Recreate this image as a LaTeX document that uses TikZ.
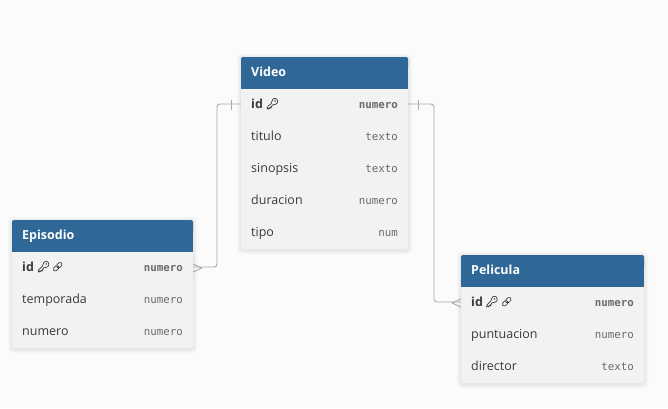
\documentclass[tikz,border=0pt]{standalone}
\usepackage{fontspec}
\setmainfont{Open Sans}
\newfontfamily\typefont{DejaVu Sans Mono}
\definecolor{pagebg}{HTML}{FBFBFB}
\definecolor{headbg}{HTML}{2F6796}
\definecolor{bodybg}{HTML}{F2F2F2}
\definecolor{linecol}{HTML}{A8A8AE}
\definecolor{namecol}{HTML}{3A3A3A}
\definecolor{typecol}{HTML}{6A6A6A}
\tikzset{
  x=1pt,y=-1pt,
  tablebody/.style={fill=bodybg,draw=none,rounded corners=2pt},
  headrect/.style={fill=headbg,draw=none},
  rowbox/.style={inner sep=0pt,outer sep=0pt,minimum height=32pt,anchor=north west},
  headtext/.style={text=white,font=\fontsize{12.5}{14}\selectfont\bfseries,anchor=base west,inner sep=0pt},
  fieldname/.style={text=namecol,font=\fontsize{12.5}{14}\selectfont,anchor=base west,inner sep=0pt},
  keyname/.style={text=namecol,font=\fontsize{12.5}{14}\selectfont\bfseries,anchor=base west,inner sep=0pt},
  typetext/.style={text=typecol,font=\typefont\fontsize{10.8}{13}\selectfont,anchor=base east,inner sep=0pt},
  keytype/.style={text=typecol,font=\typefont\fontsize{10.8}{13}\selectfont\bfseries,anchor=base east,inner sep=0pt},
  conn/.style={draw=linecol,line width=0.9pt,rounded corners=3pt},
  endmark/.style={draw=linecol,line width=0.9pt},
  glyph/.style={draw=namecol,line width=0.7pt,line cap=round},
  keyicon/.pic={
    \draw[glyph,rounded corners=1pt] (-0.2,-1.2) .. controls (-0.8,-3.8) and (1.8,-5.6) .. (3.2,-5.2)
      .. controls (5.4,-4.8) and (6,-1.6) .. (4.4,-0.2)
      .. controls (3.4,0.6) and (2,0.8) .. (1,0.4)
      -- (-0.6,2) -- (-0.8,3.6) -- (-2.4,3.8) -- (-3,5) -- (-5,5) -- (-5,3.4) -- cycle;
    \draw[glyph] (2.8,-2.8) circle (0.35pt);
  },
  linkicon/.pic={
    \draw[glyph,rotate=45,rounded corners=1.8pt] (-5.4,-2) rectangle (0.8,2);
    \draw[glyph,rotate=45,rounded corners=1.8pt] (-0.8,-2) rectangle (5.4,2);
  },
}
\newcommand{\softshadow}[4]{%
  \foreach \s in {4,3,2,1}{
    \fill[black,opacity=0.018,rounded corners=4pt] (#1-\s,#2-\s+1) rectangle (#3+\s,#4+\s+1);
  }%
}
\begin{document}
\begin{tikzpicture}
\useasboundingbox (0,0) rectangle (668,408);
\fill[pagebg] (0,0) rectangle (668,408);

% Video
\softshadow{241}{57}{408}{249}
\fill[tablebody] (241,57) rectangle (408,249);
\fill[headrect,rounded corners=2pt] (241,57) rectangle (408,70);
\fill[headrect] (241,64) rectangle (408,89);
\node[headtext] (videohead) at (251,76) {Video};
\node[rowbox,minimum width=167pt] (videoid) at (241,89) {};
\node[keyname] (videoidname) at (251,108.5) {id};
\pic at (272.2,103.8) {keyicon};
\node[keytype] (videoidtype) at (398,108) {numero};
\node[fieldname] (videotitulo) at (251,140.5) {titulo};
\node[typetext] (videotitulot) at (398,140) {texto};
\node[fieldname] (videosinopsis) at (251,172.5) {sinopsis};
\node[typetext] (videosinopsist) at (398,172) {texto};
\node[fieldname] (videoduracion) at (251,204.5) {duracion};
\node[typetext] (videoduraciont) at (398,204) {numero};
\node[fieldname] (videotipo) at (251,236.5) {tipo};
\node[typetext] (videotipot) at (398,236) {num};

% Episodio
\softshadow{12}{220}{193}{348}
\fill[tablebody] (12,220) rectangle (193,348);
\fill[headrect,rounded corners=2pt] (12,220) rectangle (193,233);
\fill[headrect] (12,227) rectangle (193,252);
\node[headtext] (episodiohead) at (22,239) {Episodio};
\node[rowbox,minimum width=181pt] (episodioid) at (12,252) {};
\node[keyname] (episodioidname) at (22,271.5) {id};
\pic at (43.4,266.7) {keyicon};
\pic at (57.7,266.7) {linkicon};
\node[keytype] (episodioidtype) at (183,271) {numero};
\node[fieldname] (episodiotemp) at (22,303.5) {temporada};
\node[typetext] (episodiotempt) at (183,303) {numero};
\node[fieldname] (episodionum) at (22,335.5) {numero};
\node[typetext] (episodionumt) at (183,335) {numero};

% Pelicula
\softshadow{461}{255}{644}{383}
\fill[tablebody] (461,255) rectangle (644,383);
\fill[headrect,rounded corners=2pt] (461,255) rectangle (644,268);
\fill[headrect] (461,262) rectangle (644,287);
\node[headtext] (peliculahead) at (471,274) {Pelicula};
\node[rowbox,minimum width=183pt] (peliculaid) at (461,287) {};
\node[keyname] (peliculaidname) at (471,306.5) {id};
\pic at (491.7,301.7) {keyicon};
\pic at (506.7,301.7) {linkicon};
\node[keytype] (peliculaidtype) at (634,306) {numero};
\node[fieldname] (peliculapunt) at (471,338.5) {puntuacion};
\node[typetext] (peliculapuntt) at (634,338) {numero};
\node[fieldname] (peliculadir) at (471,370.5) {director};
\node[typetext] (peliculadirt) at (634,370) {texto};

% Connectors
\draw[conn] ([yshift=1pt]videoid.west) -- ++(-24,0) |- ([yshift=1pt]episodioid.east);
\draw[conn] ([yshift=1pt]videoid.east) -- ++(26,0) |- ([yshift=1pt]peliculaid.west);
% one-side bars
\draw[endmark] (231,100) -- (231,110);
\draw[endmark] (418,100) -- (418,110);
% crow's feet
\draw[endmark] (202,268) -- (193,264);
\draw[endmark] (202,268) -- (193,272);
\draw[endmark] (452,303) -- (461,299);
\draw[endmark] (452,303) -- (461,307);
\end{tikzpicture}
\end{document}
